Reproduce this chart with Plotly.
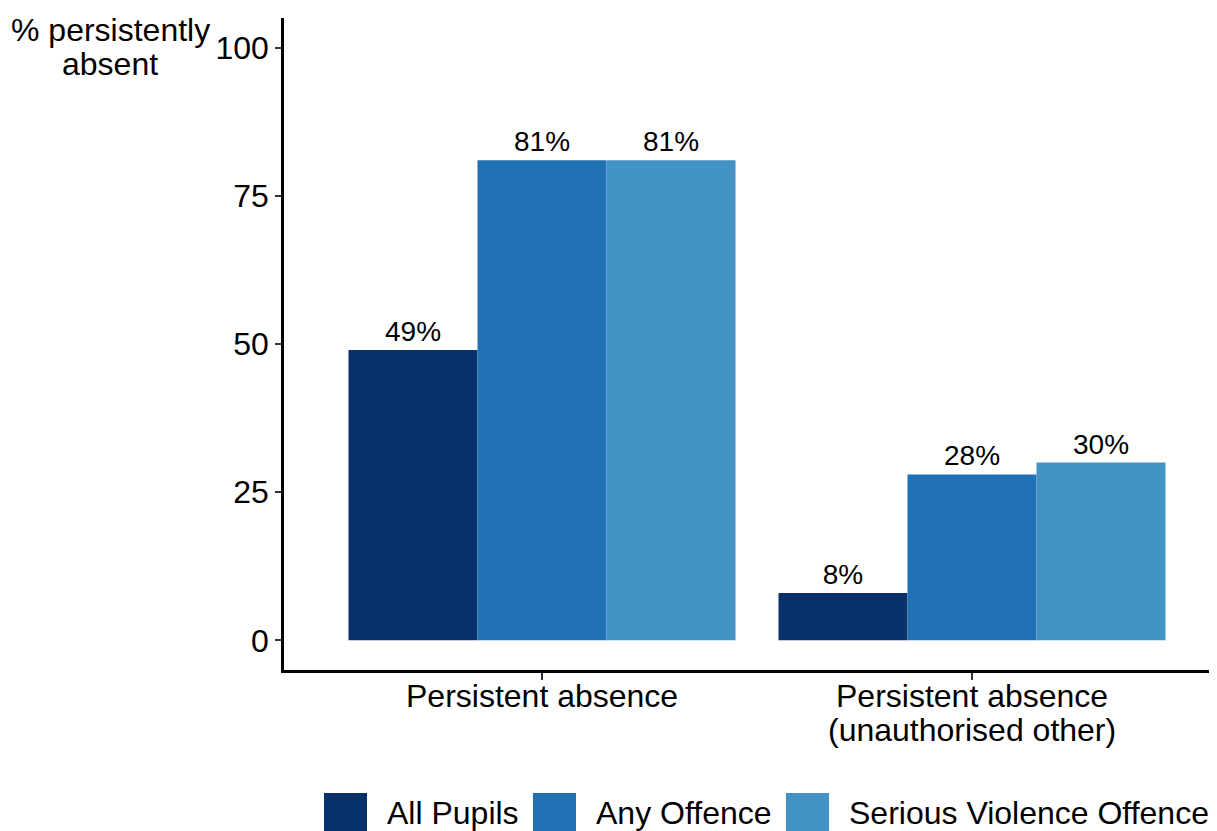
import plotly.graph_objects as go

# data
categories = ["Persistent absence", "Persistent absence<br>(unauthorised other)"]
series_names = ["All Pupils", "Any Offence", "Serious Violence Offence"]
all_pupils = [49, 8]
any_offence = [81, 28]
serious_violence = [81, 30]
y_ticks = [0, 25, 50, 75, 100]
y_title = ["% persistently", "absent"]

COLORS = ["#08306B", "#2171B5", "#4292C6"]
FONT = "Liberation Sans, Arial, sans-serif"

# the page body has an 8px margin, so the figure is shrunk by that much
OFF = 8
W, H = 1217 - OFF, 831 - OFF
L, R, T, B = 284 - OFF, 0, 18 - OFF, 161
PW, PH = W - L - R, H - T - B
LINE = 34  # line spacing for multi-line labels, tighter than plotly's default


def px_x(x):
    # reference pixel -> paper coordinate
    return (x - OFF - L) / PW


def px_y(y):
    return (H - B - (y - OFF)) / PH


fig = go.Figure()

for name, vals, color in zip(series_names, [all_pupils, any_offence, serious_violence], COLORS):
    fig.add_trace(go.Bar(
        x=categories, y=vals, name=name,
        marker=dict(color=color, line=dict(width=0)),
        text=[f"{v}%" for v in vals],
        textposition="outside",
        textfont=dict(size=28, color="black", family=FONT),
        constraintext="none",
        cliponaxis=False,
        showlegend=False,
    ))

# category labels drawn as annotations so the line spacing can match
for cat in categories:
    for j, line in enumerate(cat.split("<br>")):
        fig.add_annotation(xref="x", yref="paper", x=cat, y=px_y(696 + LINE * j),
                           xanchor="center", yanchor="middle", text=line, showarrow=False,
                           font=dict(size=32, color="black", family=FONT))

# manual legend (plotly's bar swatches are too small)
legend_x = [(324, 385), (533, 594), (786, 847)]
sw = 43
for (sx, tx), name, color in zip(legend_x, series_names, COLORS):
    fig.add_shape(type="rect", xref="paper", yref="paper",
                  x0=px_x(sx), x1=px_x(sx + sw), y0=px_y(793), y1=px_y(793 + sw),
                  fillcolor=color, line=dict(width=0))
    fig.add_annotation(xref="paper", yref="paper", x=px_x(tx), y=px_y(813),
                       xanchor="left", yanchor="middle", text=name, showarrow=False,
                       font=dict(size=32, color="black", family=FONT))

# y axis title, horizontal above the tick labels
for j, line in enumerate(y_title):
    fig.add_annotation(xref="paper", yref="paper", x=px_x(110), y=px_y(30 + LINE * j),
                       xanchor="center", yanchor="middle", text=line, showarrow=False,
                       font=dict(size=32, color="black", family=FONT))

fig.update_layout(
    width=W, height=H,
    margin=dict(l=L, r=R, t=T, b=B, autoexpand=False),
    barmode="group", bargap=0.1, bargroupgap=0,
    paper_bgcolor="white", plot_bgcolor="white",
    font=dict(family=FONT, size=32, color="black"),
    showlegend=False,
    xaxis=dict(
        range=[-0.6, -0.6 + PW / 430], showline=True, linecolor="black", linewidth=2.5,
        ticks="outside", ticklen=7, tickwidth=2, tickcolor="#333333",
        showticklabels=False, showgrid=False, zeroline=False,
    ),
    yaxis=dict(
        range=[-5, 105], tickvals=y_ticks, showline=True, linecolor="black", linewidth=2.5,
        ticks="outside", ticklen=6, tickwidth=2, tickcolor="#333333",
        tickfont=dict(size=32, color="black"), showgrid=False, zeroline=False,
    ),
)

fig.write_html("out.html")
